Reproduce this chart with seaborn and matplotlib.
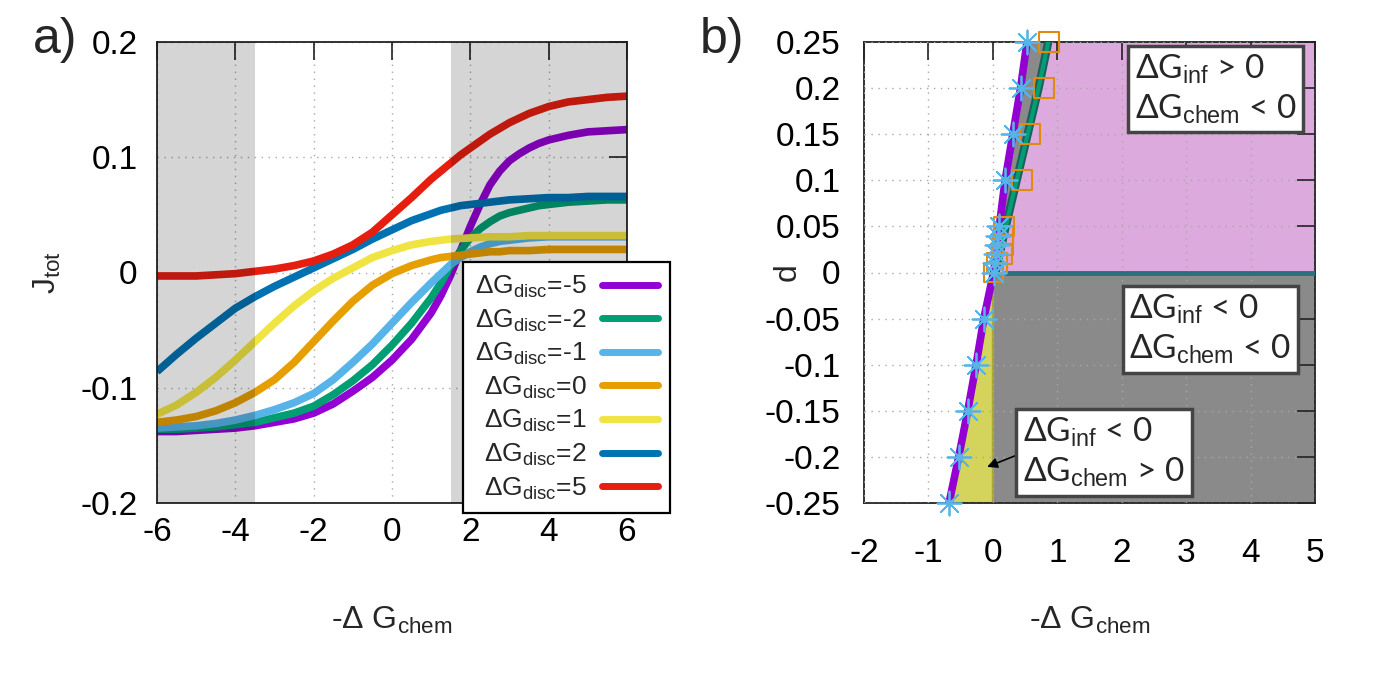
import numpy as np
import pandas as pd
import matplotlib
matplotlib.use('Agg')
import matplotlib.pyplot as plt
from matplotlib.lines import Line2D
import seaborn as sns

# ---- panel a) data: J_tot versus -dG_chem for several dG_disc ----
x_chem = [-6, -5.5, -5, -4.5, -4, -3.5, -3, -2.5, -2, -1.5, -1, -0.5, 0, 0.5, 1,
          1.25, 1.5, 1.75, 2, 2.25, 2.5, 2.75, 3, 3.25, 3.5, 3.75, 4, 4.5, 5, 5.5, 6]
disc_labels = ['ΔG$_{\\rm disc}$=-5', 'ΔG$_{\\rm disc}$=-2', 'ΔG$_{\\rm disc}$=-1',
               'ΔG$_{\\rm disc}$=0', 'ΔG$_{\\rm disc}$=1', 'ΔG$_{\\rm disc}$=2',
               'ΔG$_{\\rm disc}$=5']
j_m5 = [-0.138, -0.138, -0.137, -0.136, -0.135, -0.133, -0.130, -0.127, -0.122, -0.114, -0.103, -0.091, -0.076,
        -0.058, -0.035, -0.020, -0.002, 0.019, 0.040, 0.059, 0.076, 0.088, 0.097, 0.103, 0.108, 0.112, 0.115,
        0.119, 0.122, 0.123, 0.124]
j_m2 = [-0.136, -0.136, -0.135, -0.134, -0.132, -0.130, -0.126, -0.122, -0.116, -0.106, -0.094, -0.080, -0.063,
        -0.044, -0.022, -0.009, 0.006, 0.019, 0.030, 0.038, 0.044, 0.049, 0.052, 0.054, 0.056, 0.058, 0.059,
        0.061, 0.062, 0.063, 0.063]
j_m1 = [-0.135, -0.134, -0.133, -0.131, -0.128, -0.124, -0.119, -0.113, -0.105, -0.093, -0.078, -0.062, -0.044,
        -0.026, -0.009, -0.001, 0.007, 0.013, 0.018, 0.022, 0.025, 0.027, 0.028, 0.029, 0.030, 0.0305, 0.031,
        0.031, 0.031, 0.031, 0.031]
j_0 = [-0.130, -0.128, -0.125, -0.120, -0.113, -0.104, -0.093, -0.078, -0.060, -0.042, -0.025, -0.011, -0.001,
       0.006, 0.011, 0.013, 0.014, 0.015, 0.016, 0.017, 0.018, 0.018, 0.019, 0.019, 0.019, 0.0195, 0.020,
       0.020, 0.020, 0.020, 0.020]
j_1 = [-0.123, -0.115, -0.104, -0.091, -0.076, -0.060, -0.044, -0.029, -0.016, -0.005, 0.004, 0.013, 0.019,
       0.024, 0.027, 0.028, 0.029, 0.0295, 0.030, 0.0305, 0.031, 0.031, 0.031, 0.0315, 0.032, 0.032, 0.032,
       0.032, 0.032, 0.032, 0.032]
j_2 = [-0.086, -0.071, -0.057, -0.044, -0.031, -0.021, -0.012, -0.004, 0.004, 0.012, 0.020, 0.029, 0.037,
       0.045, 0.051, 0.054, 0.056, 0.058, 0.059, 0.060, 0.061, 0.062, 0.063, 0.0635, 0.064, 0.0645, 0.065,
       0.065, 0.066, 0.066, 0.066]
j_5 = [-0.003, -0.003, -0.003, -0.002, -0.001, 0.001, 0.003, 0.006, 0.010, 0.016, 0.024, 0.035, 0.050,
       0.065, 0.081, 0.088, 0.095, 0.102, 0.108, 0.114, 0.120, 0.125, 0.130, 0.134, 0.138, 0.141, 0.144,
       0.148, 0.150, 0.152, 0.153]
disc_colors = ['#9400d3', '#009e73', '#56b4e9', '#e69f00', '#f0e442', '#0072b2', '#e51e10']
shade_spans = [(-6, -3.5), (1.5, 6)]

# ---- panel b) data: phase diagram d versus -dG_chem ----
d_star = [-0.25, -0.2, -0.15, -0.1, -0.05, 0, 0.01, 0.02, 0.03, 0.04, 0.05, 0.1, 0.15, 0.2, 0.25]
x_star = [-0.68, -0.53, -0.39, -0.26, -0.14, 0.01, 0.03, 0.05, 0.06, 0.08, 0.10, 0.19, 0.31, 0.43, 0.53]
d_square = [0, 0.01, 0.02, 0.03, 0.04, 0.05, 0.1, 0.15, 0.2, 0.25]
x_square = [0.01, 0.06, 0.14, 0.155, 0.165, 0.175, 0.45, 0.58, 0.795, 0.87]
d_green = [0, 0.05, 0.1, 0.15, 0.2, 0.25]
x_green = [0.04, 0.20, 0.37, 0.54, 0.71, 0.86]
d_zero_x = [0.2, 5]
d_zero_y = [0, 0]
x_max, d_min, d_max = 5, -0.25, 0.25

sns.set_theme(style='white')
plt.rcParams['font.family'] = ['Liberation Sans', 'DejaVu Sans']
plt.rcParams['axes.unicode_minus'] = False
plt.rcParams['mathtext.fontset'] = 'custom'
plt.rcParams['mathtext.rm'] = 'Liberation Sans'
plt.rcParams['mathtext.it'] = 'Liberation Sans:italic'
plt.rcParams['mathtext.bf'] = 'Liberation Sans:bold'

fig = plt.figure(figsize=(13.76, 6.88), dpi=100)
ax1 = fig.add_axes([157 / 1376, 1 - 503 / 688, 470 / 1376, 461 / 688])
ax2 = fig.add_axes([864 / 1376, 1 - 503 / 688, 451 / 1376, 461 / 688])

grid_kw = dict(color='#a8a8a8', linestyle=(0, (1, 4)), linewidth=1.0)
tick_kw = dict(direction='in', length=13, width=1.2, top=True, right=True,
               labelsize=24, colors='#222222', labelcolor='black')

# ---------------- panel a ----------------
curves = [j_m5, j_m2, j_m1, j_0, j_1, j_2, j_5]
for yv, c in zip(curves, disc_colors):
    sns.lineplot(x=x_chem, y=yv, color=c, linewidth=5.5, ax=ax1, zorder=2,
                 solid_joinstyle='round', solid_capstyle='butt')
for lo, hi in shade_spans:
    ax1.axvspan(lo, hi, color='black', alpha=0.165, lw=0, zorder=3)

ax1.set_xlim(-6, 6)
ax1.set_ylim(-0.2, 0.2)
ax1.set_xticks([-6, -4, -2, 0, 2, 4, 6])
ax1.set_yticks([-0.2, -0.1, 0, 0.1, 0.2], ['-0.2', '-0.1', '0', '0.1', '0.2'])
ax1.grid(True, **grid_kw)
ax1.tick_params(axis='both', **tick_kw)
ax1.tick_params(axis='y', pad=14)
ax1.tick_params(axis='x', pad=10)
for s in ax1.spines.values():
    s.set_color('#222222')
    s.set_linewidth(1.3)
ax1.set_xlabel('-Δ G$_{\\rm chem}$', fontsize=23)
ax1.xaxis.set_label_coords(0.5, -0.222)
ax1.set_ylabel('J$_{\\rm tot}$', fontsize=23)
ax1.yaxis.set_label_coords(-0.20, 0.5)

handles = [Line2D([], [], color=c, lw=5) for c in disc_colors]
leg = ax1.legend(handles, disc_labels, loc='upper left',
                 bbox_to_anchor=(463 / 1376, 1 - 262 / 688), bbox_transform=fig.transFigure,
                 borderaxespad=0, markerfirst=False, fontsize=19, handlelength=2.1,
                 handletextpad=0.6, labelspacing=0.28, borderpad=0.45,
                 fancybox=False, framealpha=1, edgecolor='black')
leg.get_frame().set_linewidth(1.6)
leg.set_zorder(10)

# ---------------- panel b ----------------
pink = '#dcaadc'
grey = '#8a8a8a'
yellow = '#d4d45c'

px_up = [x for x, d in zip(x_star, d_star) if d >= 0]
pd_up = [d for d in d_star if d >= 0]
px_lo = [x for x, d in zip(x_star, d_star) if d <= 0]
pd_lo = [d for d in d_star if d <= 0]

# region right of green line (dG_inf > 0, dG_chem < 0)
ax2.fill(x_green + [x_max, x_max], d_green + [d_max, 0], color=pink, lw=0, zorder=1)
# strip between purple and green lines
ax2.fill(px_up + x_green[::-1], pd_up + d_green[::-1], color=grey, lw=0, zorder=1)
# lower half
ax2.fill_betweenx([d_min, 0], 0, x_max, color=grey, lw=0, zorder=1)
ax2.fill(px_lo + [0, 0], pd_lo + [0, d_min], facecolor=yellow, edgecolor='#a8a830', lw=1.5, zorder=1)

ax2.set_axisbelow(False)
ax2.grid(True, **grid_kw)

sns.lineplot(x=d_zero_x, y=d_zero_y, color='#2b6f80', linewidth=3.5, ax=ax2, zorder=3)
sns.lineplot(x=x_green, y=d_green, color='#1d5f5f', linewidth=6, ax=ax2, zorder=3,
             sort=False, estimator=None)
sns.lineplot(x=x_green, y=d_green, color='#009e73', linewidth=3, ax=ax2, zorder=3,
             sort=False, estimator=None)
sns.lineplot(x=x_star, y=d_star, color='#9400d3', linewidth=5.5, ax=ax2, zorder=4,
             sort=False, estimator=None, solid_joinstyle='round')
sns.scatterplot(x=x_square, y=d_square, marker='s', s=200, facecolor='none',
                edgecolor='#e08a10', linewidth=1.5, ax=ax2, zorder=5, clip_on=False)
sns.scatterplot(x=x_star, y=d_star, marker=(8, 2, 0), s=300, color='#56b4e9',
                linewidth=1.3, ax=ax2, zorder=6, clip_on=False)

ax2.set_xlim(-2, 5)
ax2.set_ylim(-0.25, 0.25)
ax2.set_xticks(range(-2, 6))
yt = [-0.25, -0.2, -0.15, -0.1, -0.05, 0, 0.05, 0.1, 0.15, 0.2, 0.25]
ax2.set_yticks(yt, ['-0.25', '-0.2', '-0.15', '-0.1', '-0.05', '0', '0.05', '0.1', '0.15', '0.2', '0.25'])
ax2.tick_params(axis='both', **tick_kw)
ax2.tick_params(axis='y', pad=17)
ax2.tick_params(axis='x', pad=25)
for s in ax2.spines.values():
    s.set_color('#222222')
    s.set_linewidth(1.3)
ax2.set_xlabel('-Δ G$_{\\rm chem}$', fontsize=23)
ax2.xaxis.set_label_coords(0.5, -0.222)
ax2.set_ylabel('d', fontsize=23)
ax2.yaxis.set_label_coords(-0.135, 0.5)

box_kw = dict(boxstyle='square,pad=0.2', fc='white', ec='#444444', lw=2.5)
txt_kw = dict(fontsize=24, family=['Lato', 'DejaVu Sans'], ha='left', va='center',
              linespacing=1.25, zorder=8)
ax2.text(2.2, 0.199, 'ΔG$_{\\rm inf}$ > 0\nΔG$_{\\rm chem}$ < 0', bbox=box_kw, **txt_kw)
ax2.text(2.12, -0.062, 'ΔG$_{\\rm inf}$ < 0\nΔG$_{\\rm chem}$ < 0', bbox=box_kw, **txt_kw)
ax2.text(0.47, -0.195, 'ΔG$_{\\rm inf}$ < 0\nΔG$_{\\rm chem}$ > 0', bbox=box_kw, **txt_kw)
ax2.annotate('', xy=(-0.13, -0.212), xytext=(0.41, -0.197),
             arrowprops=dict(arrowstyle='-|>', color='black', lw=1.2, mutation_scale=15),
             zorder=7)

fig.text(33 / 1376, 1 - 40 / 688, 'a)', fontsize=36, va='center', ha='left',
         family=['Liberation Sans', 'DejaVu Sans'])
fig.text(700 / 1376, 1 - 40 / 688, 'b)', fontsize=36, va='center', ha='left',
         family=['Liberation Sans', 'DejaVu Sans'])

plt.savefig('out.png', dpi=100)
